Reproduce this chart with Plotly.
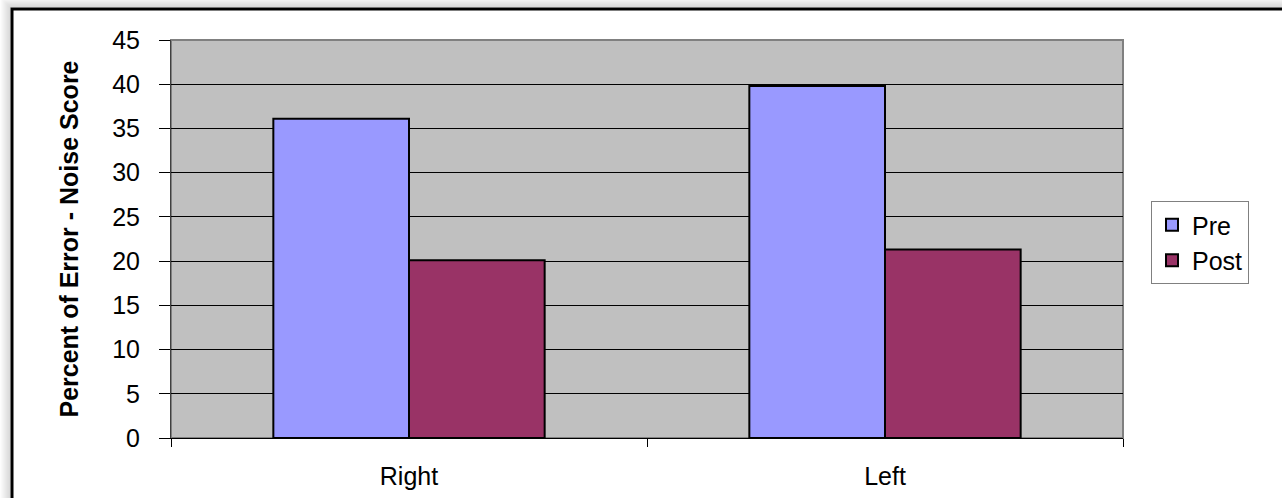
import plotly.graph_objects as go

# Percent of error (noise score) before and after, per ear
sides = ["Right", "Left"]
pre_scores = [36.1, 39.8]
post_scores = [20.1, 21.3]

series_names = ["Pre", "Post"]
series_colors = ["#9999FF", "#993366"]

W, H = 1282, 498
L, R, T, B = 171, 159, 40, 60
pw, ph = W - L - R, H - T - B


def px_x(p):
    return (p - L) / pw


def px_y(p):
    return (H - B - p) / ph


fig = go.Figure()
for name, vals, col in zip(series_names, [pre_scores, post_scores], series_colors):
    fig.add_trace(go.Bar(
        x=sides, y=vals, name=name,
        marker=dict(color=col, line=dict(color="black", width=2)),
    ))

font_main = "Liberation Sans, Arial, sans-serif"

shapes = []
# soft shadow up-left of the chart frame
for i in range(1, 11):
    shapes.append(dict(
        type="rect", xref="paper", yref="paper", layer="below",
        x0=px_x(11 - i), x1=px_x(1300), y0=px_y(1300), y1=px_y(8 - i),
        line=dict(color="rgba(0,0,0,%.3f)" % (0.16 * (11 - i) / 10), width=1),
        fillcolor="rgba(0,0,0,0)",
    ))
# chart frame
shapes.append(dict(
    type="rect", xref="paper", yref="paper", layer="above",
    x0=px_x(12), x1=px_x(1300), y0=px_y(1300), y1=px_y(9),
    line=dict(color="black", width=3), fillcolor="rgba(0,0,0,0)",
))
# plot area border
shapes.append(dict(
    type="rect", xref="paper", yref="paper", layer="below",
    x0=0, x1=1, y0=0, y1=1,
    line=dict(color="#808080", width=2), fillcolor="rgba(0,0,0,0)",
))

fig.update_layout(
    width=W, height=H,
    margin=dict(l=L, r=R, t=T, b=B, autoexpand=False),
    paper_bgcolor="white",
    plot_bgcolor="#C0C0C0",
    barmode="group",
    bargap=0.43,
    bargroupgap=0,
    font=dict(family=font_main, size=24, color="black"),
    shapes=shapes,
    legend=dict(
        x=px_x(1151), y=px_y(201), xanchor="left", yanchor="top",
        bordercolor="#808080", borderwidth=1, bgcolor="white",
        font=dict(family=font_main, size=25, color="black"),
        itemwidth=30, tracegroupgap=0,
    ),
    xaxis=dict(
        automargin=False,
        showline=True, linecolor="black", linewidth=1,
        ticks="outside", tickson="boundaries", ticklen=8, tickcolor="black",
        tickfont=dict(family=font_main, size=25, color="black"),
        ticklabelstandoff=16,
        showgrid=False,
    ),
    yaxis=dict(
        automargin=False,
        range=[0, 45], dtick=5,
        showline=True, linecolor="#404040", linewidth=1,
        ticks="outside", ticklen=11, tickcolor="black",
        showgrid=True, gridcolor="black", gridwidth=1,
        zeroline=False,
        tickfont=dict(family=font_main, size=25, color="black"),
        ticklabelstandoff=14,
        title=dict(
            text="<b>Percent of Error - Noise Score</b>",
            font=dict(family=font_main, size=25, color="black"),
            standoff=26,
        ),
    ),
)

fig.write_html("out.html")
